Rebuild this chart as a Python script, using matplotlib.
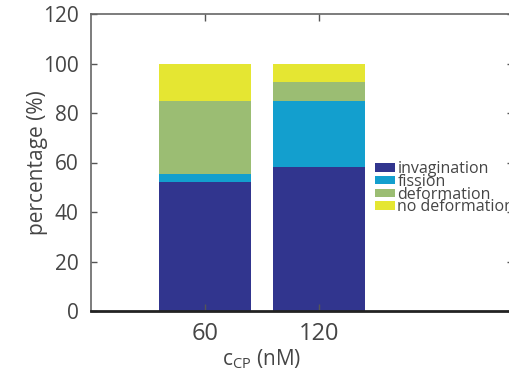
import numpy as np
import matplotlib.pyplot as plt
import matplotlib.transforms as mtransforms
from matplotlib.patches import Patch

plt.rcParams['font.family'] = ['Open Sans', 'DejaVu Sans']

# Fractions of outcomes for each protein concentration
concentrations = ['60', '120']
invagination = [52, 58]
fission = [3.5, 27]
deformation = [29.5, 7.5]
no_deformation = [15, 7.5]

labels = ['invagination', 'fission', 'deformation', 'no deformation']
colors = ['#31358e', '#139fce', '#9bbd73', '#e5e632']
text_color = '#454545'

fig = plt.figure(figsize=(5.10, 3.83), dpi=100)
ax = fig.add_axes([91 / 510, (383 - 311) / 383, (513 - 91) / 510, (311 - 14) / 383])

x = np.arange(1, len(concentrations) + 1)
bottom = np.zeros(len(x))
for vals, c in zip([invagination, fission, deformation, no_deformation], colors):
    ax.bar(x, vals, width=0.8, bottom=bottom, color=c, edgecolor='none')
    bottom += np.array(vals)

ax.set_xlim(0, (513 - 91) / 114)
ax.set_ylim(0, 120)
ax.set_yticks(np.arange(0, 121, 20))
ax.set_xticks(x)
ax.set_xticklabels(concentrations)

ax.tick_params(axis='both', direction='in', length=4, width=1, color='#555555',
               labelcolor=text_color, top=True, right=True)
ax.tick_params(axis='y', labelsize=15, pad=9)
ax.tick_params(axis='x', labelsize=17, pad=8, length=5)
for s in ['left', 'top', 'right']:
    ax.spines[s].set_color('#666666')
    ax.spines[s].set_linewidth(1.2)
ax.spines['bottom'].set_color('#222222')
ax.spines['bottom'].set_linewidth(2)

ax.set_ylabel('percentage (%)', fontsize=15, color=text_color)
ax.yaxis.set_label_coords((48 - 91) / 422, 0.5)
ax.set_xlabel(r'c$_{\mathregular{CP}}$ (nM)', fontsize=15, color=text_color)
# centre the axis title under the two bars
trans = mtransforms.blended_transform_factory(ax.transData, ax.transAxes)
ax.xaxis.set_label_coords(1.5, (311 - 347) / 297, transform=trans)

handles = [Patch(facecolor=c, edgecolor='none') for c in colors]
leg = ax.legend(handles, labels, loc='upper left', bbox_to_anchor=(284 / 422, (311 - 161) / 297),
                frameon=False, fontsize=11.5, handlelength=1.25, handleheight=0.45,
                handletextpad=0.15, labelspacing=-0.2, borderaxespad=0, borderpad=0)
for t in leg.get_texts():
    t.set_color(text_color)

fig.savefig('out.png', dpi=100)
